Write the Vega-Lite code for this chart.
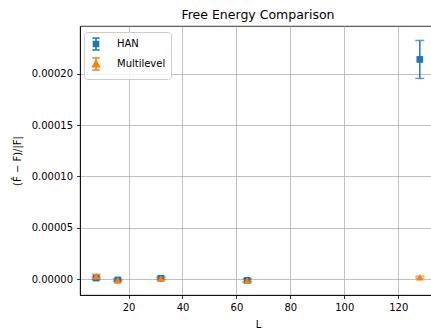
{
  "$schema": "https://vega.github.io/schema/vega-lite/v6.json",
  "width": 356,
  "height": 269,
  "autosize": {"type": "none"},
  "padding": {"left": 80, "top": 26, "right": 0, "bottom": 35},
  "background": "white",
  "title": {"text": "Free Energy Comparison", "font": "DejaVu Sans", "fontSize": 12.5, "fontWeight": "normal", "color": "black", "anchor": "middle", "offset": 5},
  "config": {
    "view": {"stroke": "black", "strokeWidth": 0.8},
    "axis": {
      "labelFont": "DejaVu Sans", "labelFontSize": 10, "labelColor": "black",
      "titleFont": "DejaVu Sans", "titleFontSize": 10, "titleFontWeight": "normal", "titleColor": "black",
      "domainColor": "black", "domainWidth": 0.8, "tickColor": "black", "tickWidth": 0.8, "tickSize": 3.5,
      "gridColor": "#b0b0b0", "gridWidth": 0.8, "gridOpacity": 1
    },
    "legend": {
      "orient": "none", "legendX": 4, "legendY": 6,
      "fillColor": "rgba(255,255,255,0.8)", "strokeColor": "#cccccc", "cornerRadius": 3, "padding": 5,
      "labelFont": "DejaVu Sans", "labelFontSize": 10, "labelColor": "black",
      "symbolSize": 150, "symbolStrokeWidth": 1.5, "symbolOpacity": 1, "rowPadding": 0, "labelOffset": 14
    }
  },
  "data": {"values": [
    {"L": 8, "series": "HAN", "value": 0.0000010, "err": 0.0000015},
    {"L": 16, "series": "HAN", "value": -0.0000008, "err": 0.0000010},
    {"L": 32, "series": "HAN", "value": 0.0000008, "err": 0.0000012},
    {"L": 64, "series": "HAN", "value": -0.0000012, "err": 0.0000015},
    {"L": 128, "series": "HAN", "value": 0.000214, "err": 0.0000185},
    {"L": 8, "series": "Multilevel", "value": 0.0000028, "err": 0.0000020},
    {"L": 16, "series": "Multilevel", "value": -0.0000012, "err": 0.0000010},
    {"L": 32, "series": "Multilevel", "value": 0.0000005, "err": 0.0000010},
    {"L": 64, "series": "Multilevel", "value": -0.0000016, "err": 0.0000012},
    {"L": 128, "series": "Multilevel", "value": 0.0000018, "err": 0.0000010}
  ]},
  "encoding": {
    "x": {"field": "L", "type": "quantitative", "title": "L",
      "scale": {"domain": [2, 134], "nice": false, "zero": false},
      "axis": {"values": [20, 40, 60, 80, 100, 120], "labelPadding": 4, "titlePadding": 7}},
    "y": {"field": "value", "type": "quantitative", "title": "(F̂ − F)/|F|",
      "scale": {"domain": [-0.0000155, 0.0002466], "nice": false, "zero": false},
      "axis": {"values": [0, 0.00005, 0.0001, 0.00015, 0.0002], "format": ".5f", "labelPadding": 4, "titlePadding": 9}}
  },
  "layer": [
    {
      "mark": {"type": "errorbar", "ticks": {"size": 9}, "thickness": 1.5},
      "encoding": {
        "yError": {"field": "err"},
        "color": {"field": "series", "type": "nominal", "scale": {"domain": ["HAN", "Multilevel"], "range": ["#1f77b4", "#ff7f0e"]}}
      }
    },
    {
      "transform": [{"filter": "datum.series === 'HAN'"}],
      "mark": {"type": "point", "shape": "square", "filled": true, "opacity": 1, "size": 45},
      "encoding": {
        "color": {"field": "series", "type": "nominal"}
      }
    },
    {
      "transform": [{"filter": "datum.series === 'Multilevel'"}],
      "mark": {"type": "point", "shape": "triangle-up", "filled": true, "opacity": 1, "size": 55},
      "encoding": {
        "color": {"field": "series", "type": "nominal"}
      }
    },
    {
      "mark": {"type": "point", "filled": true, "opacity": 0.01, "size": 1},
      "encoding": {
        "color": {"field": "series", "type": "nominal", "legend": {
          "title": null,
          "encode": {"symbols": {"update": {"stroke": {"scale": "color", "field": "value"}, "strokeWidth": {"value": 1.5}, "opacity": {"value": 1}}}}
        }},
        "shape": {"field": "series", "type": "nominal", "scale": {"domain": ["HAN", "Multilevel"], "range": [
          "M-0.6,-1H0.6M0,-1V1M-0.6,1H0.6M-0.42,-0.42H0.42V0.42H-0.42Z",
          "M-0.6,-1H0.6M0,-1V1M-0.6,1H0.6M0,-0.55L0.55,0.45H-0.55Z"
        ]}, "legend": {"title": null}}
      }
    }
  ]
}
